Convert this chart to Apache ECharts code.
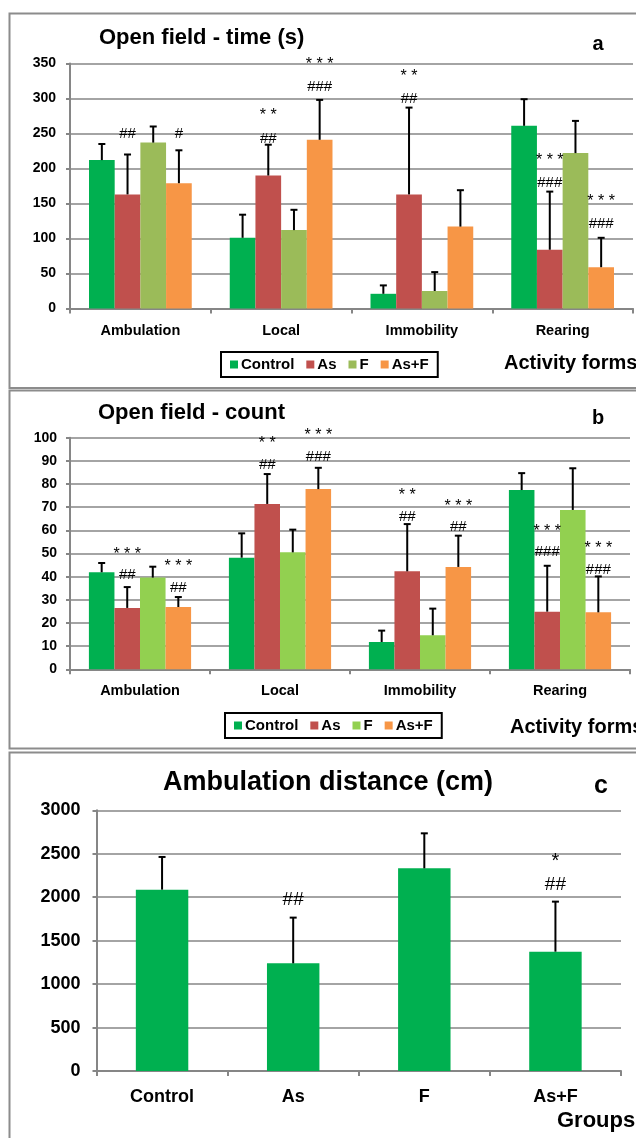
<!DOCTYPE html>
<html>
<head>
<meta charset="utf-8">
<script src="https://cdn.jsdelivr.net/npm/echarts@6/dist/echarts.min.js"></script>
<style>
html,body{margin:0;padding:0;background:#fff;}
#chart{width:636px;height:1138px;}
</style>
</head>
<body>
<div id="chart"></div>
<script>
// ---------- DATA ----------
const categories = ['Ambulation', 'Local', 'Immobility', 'Rearing'];
const groups = ['Control', 'As', 'F', 'As+F'];

// Panel a: Open field - time (s)
const timeControl = [212, 101, 21, 261];
const timeAs      = [163, 190, 163, 84];
const timeF       = [237, 112, 25, 222];
const timeAsF     = [179, 241, 117, 59];
const timeErrControl = [23, 33, 12, 38];
const timeErrAs      = [57, 44, 124, 83];
const timeErrF       = [23, 29, 27, 46];
const timeErrAsF     = [47, 57, 52, 42];
const timeTicks = [0, 50, 100, 150, 200, 250, 300, 350];
// [text, category index, group index, value]
const timeMarks = [
  ['##', 0, 1, 250], ['#', 0, 3, 250],
  ['* *', 1, 1, 280], ['##', 1, 1, 243], ['* * *', 1, 3, 353], ['###', 1, 3, 317],
  ['* *', 2, 1, 337], ['##', 2, 1, 299],
  ['* * *', 3, 1, 217], ['###', 3, 1, 180], ['* * *', 3, 3, 158], ['###', 3, 3, 121]
];

// Panel b: Open field - count
const countControl = [41.9, 48.2, 11.8, 77.4];
const countAs      = [26.5, 71.4, 42.3, 24.9];
const countF       = [39.6, 50.5, 14.7, 68.8];
const countAsF     = [26.9, 77.8, 44.2, 24.6];
const countErrControl = [4.0, 10.5, 4.9, 7.3];
const countErrAs      = [9.0, 12.9, 20.4, 19.8];
const countErrF       = [4.7, 9.8, 11.5, 18.0];
const countErrAsF     = [4.3, 9.2, 13.5, 15.5];
const countTicks = [0, 10, 20, 30, 40, 50, 60, 70, 80, 90, 100];
const countMarks = [
  ['* * *', 0, 1, 50.9], ['##', 0, 1, 40.6], ['* * *', 0, 3, 45.9], ['##', 0, 3, 35.1],
  ['* *', 1, 1, 99], ['##', 1, 1, 88.2], ['* * *', 1, 3, 102.3], ['###', 1, 3, 91.9],
  ['* *', 2, 1, 76.4], ['##', 2, 1, 66], ['* * *', 2, 3, 71.7], ['##', 2, 3, 61.3],
  ['* * *', 3, 1, 61], ['###', 3, 1, 50.5], ['* * *', 3, 3, 53.7], ['###', 3, 3, 42.9]
];

// Panel c: Ambulation distance (cm)
const distGroups = ['Control', 'As', 'F', 'As+F'];
const distMean = [2087, 1239, 2332, 1373];
const distErr  = [376, 526, 403, 576];
const distTicks = [0, 500, 1000, 1500, 2000, 2500, 3000];
const distMarks = [['##', 1, 1968], ['*', 3, 2459], ['##', 3, 2140]];

// ---------- STYLE ----------
const FONT = '"Liberation Sans", Arial, sans-serif';
const colControl = '#00B050', colAs = '#C0504D', colFa = '#9BBB59', colFb = '#92D050', colAsF = '#F79646';
const gridGray = '#868686';
const GAP_AB = 0.27, GAP_C = 0.6;

function errRender(nSeries, gap) {
  return function (params, api) {
    const c = api.value(0), v = api.value(1), e = api.value(2), s = api.value(3);
    const base = api.coord([c, v]);
    const top = api.coord([c, v + e]);
    const band = api.size([1, 0])[0];
    const gw = band * (1 - gap);
    const bw = gw / nSeries;
    const x = base[0] - gw / 2 + bw * (s + 0.5);
    return {
      type: 'group',
      children: [
        { type: 'line', shape: { x1: x, y1: base[1], x2: x, y2: top[1] }, style: { stroke: '#000', lineWidth: 2 } },
        { type: 'line', shape: { x1: x - 3.5, y1: top[1], x2: x + 3.5, y2: top[1] }, style: { stroke: '#000', lineWidth: 2 } }
      ]
    };
  };
}

function markRender(marks, nSeries, gap, fontSize) {
  return function (params, api) {
    const m = marks[params.dataIndex];
    const text = m[0];
    const c = m[1];
    const s = nSeries > 1 ? m[2] : 0;
    const v = nSeries > 1 ? m[3] : m[2];
    const p = api.coord([c, v]);
    const band = api.size([1, 0])[0];
    const gw = band * (1 - gap);
    const bw = gw / nSeries;
    const x = p[0] - gw / 2 + bw * (s + 0.5);
    const isStar = text.indexOf('*') >= 0;
    const fs = isStar ? fontSize + 1 : fontSize;
    const dy = isStar ? fs * 0.22 : 0;
    return {
      type: 'text',
      x: x, y: p[1] + dy,
      style: {
        text: text, fill: '#000',
        font: fs + 'px ' + FONT,
        align: 'center', verticalAlign: 'middle',
        textAlign: 'center', textVerticalAlign: 'middle'
      }
    };
  };
}

function errData(arrs, errs) {
  const out = [];
  arrs.forEach((arr, s) => arr.forEach((v, c) => out.push([c, v, errs[s][c], s])));
  return out;
}

function xAxisCfg(gi, data, fs, margin) {
  return {
    gridIndex: gi, type: 'category', data: data,
    axisLine: { lineStyle: { color: gridGray, width: 2 } },
    axisTick: { show: true, length: 5, lineStyle: { color: gridGray, width: 2 } },
    axisLabel: { color: '#000', fontSize: fs, fontWeight: 'bold', fontFamily: FONT, margin: margin }
  };
}
function yAxisCfg(gi, ticks, fs, margin) {
  return {
    gridIndex: gi, type: 'value', min: ticks[0], max: ticks[ticks.length - 1], interval: ticks[1] - ticks[0],
    axisLine: { show: true, lineStyle: { color: gridGray, width: 2 } },
    axisTick: { show: true, length: 4, lineStyle: { color: gridGray, width: 2 } },
    splitLine: { show: true, lineStyle: { color: gridGray, width: 1.6 } },
    axisLabel: {
      color: '#000', fontSize: fs, fontWeight: 'bold', fontFamily: FONT, margin: margin,
      formatter: function (v) { return String(v); }
    }
  };
}
function barSeries(name, gi, data, color, gap) {
  return {
    name: name, type: 'bar', xAxisIndex: gi, yAxisIndex: gi, data: data,
    barGap: '0%', barCategoryGap: (gap * 100) + '%',
    itemStyle: { color: color }, animation: false, z: 2
  };
}
function legendCfg(left, top, fColor) {
  return {
    left: left, top: top, orient: 'horizontal',
    data: [
      { name: 'Control', itemStyle: { color: colControl } },
      { name: 'As', itemStyle: { color: colAs } },
      { name: 'F', itemStyle: { color: fColor } },
      { name: 'As+F', itemStyle: { color: colAsF } }
    ],
    icon: 'rect', itemWidth: 8, itemHeight: 8, itemGap: 12,
    padding: [5, 9], borderColor: '#000', borderWidth: 2, borderRadius: 0,
    selectedMode: false,
    textStyle: { color: '#000', fontSize: 15, fontWeight: 'bold', fontFamily: FONT, padding: [0, 0, 0, -2] }
  };
}
function txt(text, x, y, size, align) {
  return {
    type: 'text', x: x, y: y, z: 10,
    style: {
      text: text, fill: '#000', font: 'bold ' + size + 'px ' + FONT,
      align: align || 'left', verticalAlign: 'middle',
      textAlign: align || 'left', textVerticalAlign: 'middle'
    }
  };
}
function frame(x, y, w, h) {
  return { type: 'rect', z: -1, shape: { x: x, y: y, width: w, height: h }, style: { fill: 'none', stroke: '#8c8c8c', lineWidth: 2 } };
}

const chart = echarts.init(document.getElementById('chart'), null, { renderer: 'canvas' });

const option = {
  backgroundColor: '#fff',
  animation: false,
  grid: [
    { left: 70, top: 63.5, width: 563, height: 245 },
    { left: 70, top: 437.7, width: 560, height: 231.6 },
    { left: 96.5, top: 810.3, width: 524.5, height: 260.7 }
  ],
  xAxis: [
    xAxisCfg(0, categories, 14.5, 15),
    xAxisCfg(1, categories, 14.5, 14),
    xAxisCfg(2, distGroups, 18, 17)
  ],
  yAxis: [
    yAxisCfg(0, timeTicks, 14, 14),
    yAxisCfg(1, countTicks, 14, 13),
    yAxisCfg(2, distTicks, 18, 16)
  ],
  legend: [legendCfg(221, 352, colFa), legendCfg(225, 713, colFb)],
  series: [
    barSeries('Control', 0, timeControl, colControl, GAP_AB),
    barSeries('As', 0, timeAs, colAs, GAP_AB),
    barSeries('F', 0, timeF, colFa, GAP_AB),
    barSeries('As+F', 0, timeAsF, colAsF, GAP_AB),
    {
      name: 'time error', type: 'custom', xAxisIndex: 0, yAxisIndex: 0, z: 3,
      renderItem: errRender(4, GAP_AB),
      data: errData([timeControl, timeAs, timeF, timeAsF], [timeErrControl, timeErrAs, timeErrF, timeErrAsF])
    },
    {
      name: 'time marks', type: 'custom', xAxisIndex: 0, yAxisIndex: 0, z: 4,
      renderItem: markRender(timeMarks, 4, GAP_AB, 15),
      data: timeMarks.map(m => [m[1], m[3]])
    },
    barSeries('Control', 1, countControl, colControl, GAP_AB),
    barSeries('As', 1, countAs, colAs, GAP_AB),
    barSeries('F', 1, countF, colFb, GAP_AB),
    barSeries('As+F', 1, countAsF, colAsF, GAP_AB),
    {
      name: 'count error', type: 'custom', xAxisIndex: 1, yAxisIndex: 1, z: 3,
      renderItem: errRender(4, GAP_AB),
      data: errData([countControl, countAs, countF, countAsF], [countErrControl, countErrAs, countErrF, countErrAsF])
    },
    {
      name: 'count marks', type: 'custom', xAxisIndex: 1, yAxisIndex: 1, z: 4,
      renderItem: markRender(countMarks, 4, GAP_AB, 15),
      data: countMarks.map(m => [m[1], m[3]])
    },
    barSeries('Ambulation distance', 2, distMean, colControl, GAP_C),
    {
      name: 'dist error', type: 'custom', xAxisIndex: 2, yAxisIndex: 2, z: 3,
      renderItem: errRender(1, GAP_C),
      data: distMean.map((v, c) => [c, v, distErr[c], 0])
    },
    {
      name: 'dist marks', type: 'custom', xAxisIndex: 2, yAxisIndex: 2, z: 4,
      renderItem: markRender(distMarks, 1, GAP_C, 19),
      data: distMarks.map(m => [m[1], m[2]])
    }
  ],
  graphic: [
    frame(9.5, 13.5, 700, 374.5),
    frame(9.5, 390.5, 700, 358),
    frame(9.5, 752.5, 700, 500),
    txt('Open field - time (s)', 99, 38, 22),
    txt('a', 598, 44, 20, 'center'),
    txt('Activity forms', 504, 363, 20),
    txt('Open field - count', 98, 413, 22),
    txt('b', 598, 418, 20, 'center'),
    txt('Activity forms', 510, 727, 20),
    txt('Ambulation distance (cm)', 328, 783, 27, 'center'),
    txt('c', 601, 786, 25, 'center'),
    txt('Groups', 557, 1121, 22)
  ]
};
chart.setOption(option);
</script>
</body>
</html>
